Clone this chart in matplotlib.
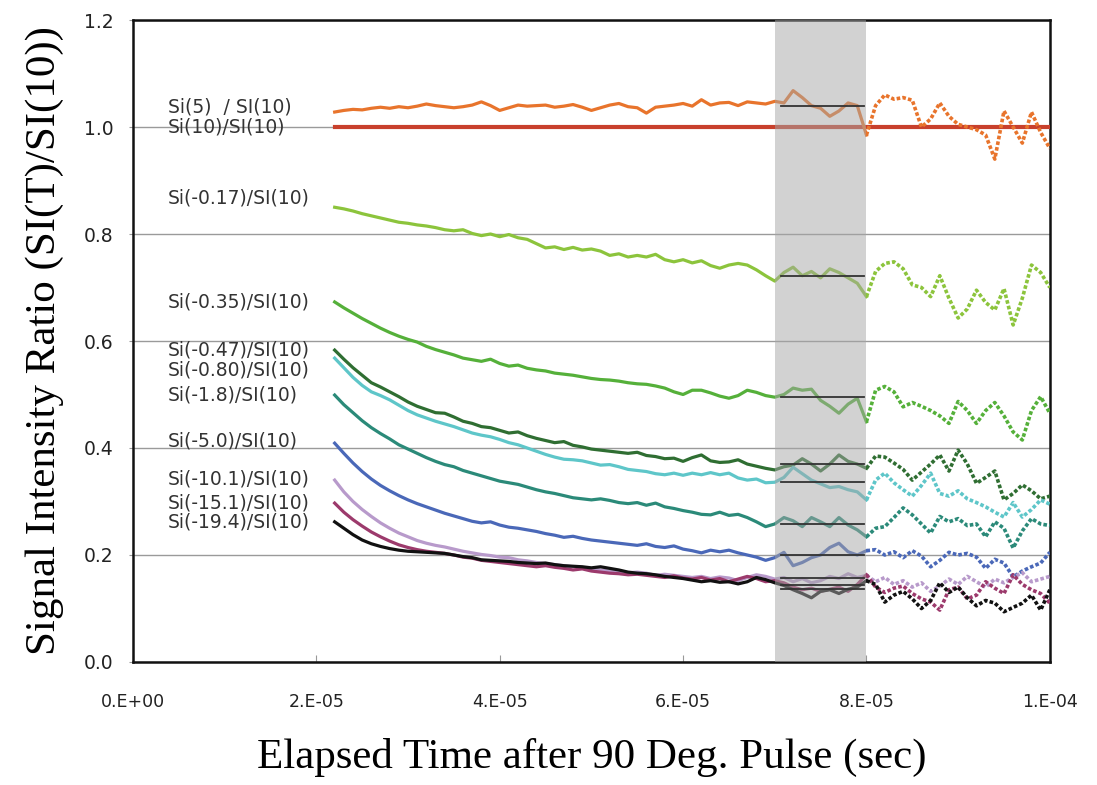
import numpy as np
import matplotlib
matplotlib.use("Agg")
import matplotlib.pyplot as plt

# elapsed time grid (microseconds), converted to seconds below
time_us = list(range(22, 101))

# signal intensity ratios, one value per microsecond
si_p5 = [1.028, 1.031, 1.033, 1.032, 1.035, 1.037, 1.035, 1.038, 1.036,
         1.039, 1.043, 1.040, 1.038, 1.036, 1.038, 1.041, 1.047, 1.040, 1.031,
         1.036, 1.041, 1.039, 1.040, 1.041, 1.037, 1.039, 1.042, 1.037, 1.031,
         1.036, 1.041, 1.044, 1.038, 1.036, 1.026, 1.037, 1.039, 1.041, 1.044,
         1.039, 1.051, 1.041, 1.045, 1.046, 1.040, 1.047, 1.045, 1.043, 1.048,
         1.045, 1.068, 1.055, 1.040, 1.035, 1.020, 1.030, 1.045, 1.040, 0.985,
         1.040, 1.060, 1.052, 1.055, 1.050, 1.000, 1.015, 1.045, 1.020, 1.005,
         1.000, 0.995, 0.985, 0.940, 1.030, 1.000, 0.970, 1.028, 0.990, 0.960]
si_p10 = 1.0
si_m017 = [.850, .847, .843, .838, .834, .830, .826, .822, .820,
           .817, .815, .812, .808, .806, .808, .801, .797, .800, .795,
           .799, .793, .790, .782, .774, .776, .771, .775, .770, .772,
           .768, .760, .763, .757, .760, .757, .762, .752, .748, .752,
           .746, .750, .741, .736, .742, .745, .742, .733, .722, .712,
           .728, .738, .722, .730, .718, .735, .728, .718, .708, .683,
           .730, .745, .748, .735, .705, .700, .683, .722, .680, .643,
           .660, .695, .672, .658, .698, .630, .680, .742, .728, .700]
si_m035 = [.673, .662, .652, .642, .633, .624, .616, .609, .603,
           .598, .590, .584, .579, .574, .568, .565, .562, .566, .558,
           .553, .555, .549, .546, .544, .540, .538, .536, .533, .530,
           .528, .527, .525, .522, .520, .519, .516, .512, .505, .500,
           .508, .508, .503, .497, .493, .498, .508, .504, .498, .495,
           .500, .512, .508, .510, .489, .478, .465, .482, .493, .449,
           .508, .515, .505, .477, .485, .478, .470, .460, .446, .487,
           .470, .446, .470, .485, .460, .430, .415, .470, .496, .465]
si_m047 = [.583, .566, .550, .536, .522, .514, .505, .496, .486,
           .478, .472, .466, .465, .458, .450, .446, .440, .438, .433,
           .428, .430, .423, .418, .414, .410, .412, .405, .402, .398,
           .396, .394, .392, .390, .392, .386, .384, .380, .381, .375,
           .382, .387, .376, .373, .374, .378, .370, .366, .362, .359,
           .365, .368, .380, .370, .357, .370, .387, .375, .370, .362,
           .385, .383, .372, .360, .340, .355, .370, .387, .357, .396,
           .370, .334, .345, .357, .303, .315, .331, .320, .305, .310]
si_m080 = [.568, .550, .532, .517, .505, .498, .490, .480, .470,
           .462, .456, .450, .445, .440, .434, .428, .424, .421, .416,
           .410, .406, .400, .394, .388, .383, .379, .378, .376, .372,
           .368, .369, .365, .360, .358, .356, .352, .350, .353, .349,
           .353, .350, .354, .350, .353, .344, .340, .342, .335, .336,
           .345, .364, .352, .340, .333, .326, .328, .322, .318, .303,
           .340, .353, .335, .322, .310, .330, .353, .315, .310, .320,
           .305, .298, .290, .280, .271, .298, .271, .285, .303, .295]
si_m18 = [.499, .481, .466, .451, .438, .427, .417, .406, .398,
          .390, .382, .375, .369, .365, .358, .353, .348, .343, .338,
          .335, .332, .327, .322, .318, .315, .311, .307, .305, .303,
          .305, .302, .298, .296, .298, .293, .297, .290, .287, .283,
          .280, .276, .275, .280, .274, .276, .270, .262, .253, .258,
          .270, .264, .253, .270, .262, .253, .270, .256, .247, .234,
          .250, .253, .270, .288, .275, .258, .241, .272, .262, .268,
          .255, .258, .234, .262, .250, .213, .245, .268, .258, .255]
si_m50 = [.409, .390, .372, .356, .342, .330, .320, .311, .303,
          .296, .290, .284, .278, .273, .268, .263, .260, .262, .256,
          .252, .250, .247, .244, .240, .237, .233, .235, .231, .228,
          .226, .224, .222, .220, .218, .221, .216, .214, .217, .211,
          .208, .204, .209, .206, .209, .204, .200, .196, .190, .195,
          .205, .180, .186, .195, .200, .214, .222, .206, .200, .208,
          .210, .200, .206, .195, .208, .198, .178, .190, .205, .200,
          .203, .196, .175, .192, .185, .159, .170, .178, .185, .205]
si_m101 = [.340, .318, .300, .285, .272, .260, .250, .241, .234,
           .227, .222, .218, .215, .211, .207, .204, .201, .199, .196,
           .195, .191, .189, .186, .184, .182, .180, .178, .177, .174,
           .172, .170, .169, .167, .168, .166, .162, .164, .162, .160,
           .158, .160, .156, .159, .157, .152, .158, .163, .160, .155,
           .158, .150, .156, .148, .152, .160, .156, .165, .158, .162,
           .150, .158, .145, .152, .140, .148, .132, .142, .155, .145,
           .160, .150, .140, .155, .148, .158, .167, .150, .155, .160]
si_m151 = [.297, .280, .266, .254, .243, .234, .226, .219, .214,
           .210, .207, .205, .203, .200, .196, .194, .190, .188, .186,
           .184, .182, .180, .178, .180, .177, .175, .172, .174, .170,
           .168, .166, .165, .163, .164, .162, .160, .158, .161, .157,
           .155, .158, .153, .156, .150, .155, .160, .156, .150, .152,
           .148, .140, .135, .138, .132, .136, .140, .132, .145, .163,
           .140, .130, .138, .142, .128, .118, .112, .097, .135, .140,
           .118, .125, .150, .138, .128, .163, .145, .135, .128, .110]
si_m194 = [.262, .250, .238, .228, .221, .216, .212, .209, .207,
           .206, .205, .204, .203, .200, .197, .195, .191, .190, .189,
           .188, .186, .185, .184, .185, .182, .180, .179, .178, .176,
           .178, .175, .172, .168, .166, .165, .163, .160, .158, .156,
           .153, .150, .152, .149, .150, .146, .150, .158, .154, .148,
           .143, .135, .128, .120, .132, .135, .128, .136, .140, .152,
           .145, .112, .125, .132, .118, .100, .115, .148, .130, .140,
           .120, .105, .115, .110, .094, .102, .110, .125, .097, .135]

labels = ["Si(5)  / SI(10)", "Si(10)/SI(10)", "Si(-0.17)/SI(10)", "Si(-0.35)/SI(10)",
          "Si(-0.47)/SI(10)", "Si(-0.80)/SI(10)", "Si(-1.8)/SI(10)", "Si(-5.0)/SI(10)",
          "Si(-10.1)/SI(10)", "Si(-15.1)/SI(10)", "Si(-19.4)/SI(10)"]
label_y = [1.037, 1.0, 0.868, 0.673, 0.583, 0.546, 0.499, 0.413, 0.342, 0.297, 0.262]

# averages over the shaded 70-80 us window
band_means = [1.040, 0.721, 0.495, 0.370, 0.336, 0.258, 0.200, 0.157, 0.144, 0.136]

t = np.array(time_us) * 1e-6
series = [si_p5, si_m017, si_m035, si_m047, si_m080, si_m18, si_m50, si_m101, si_m151, si_m194]
colors = ["#E8742C", "#8CC43C", "#55B03A", "#2F6E32", "#5EC6C9", "#2B8A79",
          "#4A68B8", "#B89ACB", "#9C3A6C", "#111111"]

fig = plt.figure(figsize=(10.97, 7.85), dpi=100)
ax = fig.add_axes([0.1212, 0.1567, 0.8358, 0.8178])

ax.set_xlim(0, 1e-4)
ax.set_ylim(0, 1.2)
ax.set_yticks(np.arange(0, 1.21, 0.2))
ax.set_xticks(np.arange(0, 1.01e-4, 2e-5))
ax.set_yticklabels(["%.1f" % v for v in np.arange(0, 1.21, 0.2)], fontsize=13.5, color="#222222")
ax.set_xticklabels(["0.E+00", "2.E-05", "4.E-05", "6.E-05", "8.E-05", "1.E-04"],
                   fontsize=12.5, color="#222222")
ax.tick_params(axis="x", direction="in", length=5, pad=22, color="#999999")
ax.tick_params(axis="y", direction="out", length=3, pad=11, color="#999999")
ax.yaxis.grid(True, color="#9A9A9A", lw=1.0)
ax.set_axisbelow(True)
for s in ax.spines.values():
    s.set_linewidth(1.8)
    s.set_color("#111111")

# constant reference ratio
ax.plot([t[0], t[-1]], [si_p10, si_p10], color="#C8402C", lw=3, zorder=3)

cut = time_us.index(80)
for y, c in zip(series, colors):
    ax.plot(t[:cut + 1], y[:cut + 1], color=c, lw=2.3, zorder=3)
    ax.plot(t[cut:], y[cut:], color=c, lw=2.6, ls=(0, (1, 0.6)), zorder=3)

ax.axvspan(7e-5, 8e-5, color="#A6A6A6", alpha=0.5, lw=0, zorder=4)
for m in band_means:
    ax.plot([7.07e-5, 7.97e-5], [m, m], color="#333333", lw=1.3, zorder=5)

for lab, ly in zip(labels, label_y):
    ax.text(3.8e-6, ly, lab, fontsize=13.5, color="#333333", va="center", ha="left", zorder=6)

ax.set_xlabel("Elapsed Time after 90 Deg. Pulse (sec)", family="Liberation Serif", fontsize=31, labelpad=20)
ax.set_ylabel("Signal Intensity Ratio (SI(T)/SI(10))", family="Liberation Serif", fontsize=31, labelpad=14)

fig.savefig("out.png", dpi=100)
